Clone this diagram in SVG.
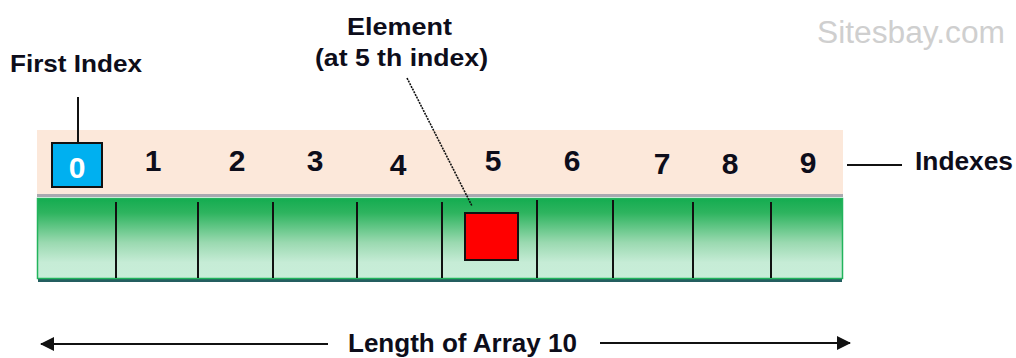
<svg xmlns="http://www.w3.org/2000/svg" width="1016" height="358" viewBox="0 0 1016 358">
  <defs>
    <linearGradient id="cellFill" x1="0" y1="0" x2="0" y2="1">
      <stop offset="0" stop-color="#14ac50"/>
      <stop offset="0.18" stop-color="#2eb45f"/>
      <stop offset="0.55" stop-color="#9ad9b0"/>
      <stop offset="0.8" stop-color="#c6ecd6"/>
      <stop offset="1" stop-color="#c9eed9"/>
    </linearGradient>
    <marker id="arrowHead" viewBox="0 0 14 14" refX="13" refY="7" markerWidth="14" markerHeight="14" markerUnits="userSpaceOnUse" orient="auto">
      <path d="M0,0 L14,7 L0,14 Z" fill="#111"/>
    </marker>
    <style>
      .lbl { font-family: "Liberation Sans", Arial, sans-serif; font-weight: bold; fill: #0d0d1a; }
      .idx { font-family: "Liberation Sans", Arial, sans-serif; font-weight: bold; font-size: 30px; fill: #0d0d1a; text-anchor: middle; }
      .div { stroke: #111; stroke-width: 2; }
      .conn { stroke: #111; stroke-width: 2; fill: none; }
    </style>
  </defs>

  <!-- watermark -->
  <text x="817" y="43" font-family="'Liberation Sans', Arial, sans-serif" font-size="31" fill="#cfcfcf" textLength="188" lengthAdjust="spacingAndGlyphs">Sitesbay.com</text>

  <!-- index band -->
  <g id="index-band">
    <rect x="37" y="193" width="806" height="4" fill="#a9a9b0"/>
    <rect x="37" y="130" width="806" height="64" fill="#fce8da"/>
  </g>

  <!-- array cells -->
  <g id="array">
    <rect x="38" y="279" width="804" height="3" fill="#245e60"/>
    <rect x="37.5" y="198.5" width="805" height="80" fill="url(#cellFill)" stroke="#22b45c" stroke-width="1.5"/>
    <line class="div" x1="116" y1="202" x2="116" y2="278"/>
    <line class="div" x1="198" y1="202" x2="198" y2="278"/>
    <line class="div" x1="273" y1="202" x2="273" y2="278"/>
    <line class="div" x1="357" y1="202" x2="357" y2="278"/>
    <line class="div" x1="442" y1="202" x2="442" y2="278"/>
    <line class="div" x1="537" y1="200" x2="537" y2="278"/>
    <line class="div" x1="613" y1="200" x2="613" y2="278"/>
    <line class="div" x1="693" y1="202" x2="693" y2="278"/>
    <line class="div" x1="771" y1="202" x2="771" y2="278"/>
  </g>

  <!-- index 0 highlight -->
  <g id="first-cell">
    <rect x="52" y="143" width="50" height="44" fill="#00b0f0" stroke="#111" stroke-width="2"/>
    <text x="77" y="178" font-family="'Liberation Sans', Arial, sans-serif" font-weight="bold" font-size="30" fill="#ffffff" text-anchor="middle">0</text>
  </g>

  <!-- index numbers -->
  <g id="indexes">
    <text class="idx" x="153" y="171">1</text>
    <text class="idx" x="237" y="171">2</text>
    <text class="idx" x="315" y="171">3</text>
    <text class="idx" x="398" y="175">4</text>
    <text class="idx" x="493" y="171">5</text>
    <text class="idx" x="572" y="171">6</text>
    <text class="idx" x="662" y="174">7</text>
    <text class="idx" x="730" y="174">8</text>
    <text class="idx" x="808" y="173">9</text>
  </g>

  <!-- element at index 5 -->
  <g id="element">
    <rect x="465" y="213" width="53" height="47" fill="#ff0000" stroke="#111" stroke-width="2"/>
  </g>

  <!-- labels -->
  <g id="first-index-label">
    <text class="lbl" x="10" y="72" font-size="24" textLength="132" lengthAdjust="spacingAndGlyphs">First Index</text>
  </g>
  <g id="element-label">
    <text class="lbl" x="347" y="35" font-size="24" textLength="105" lengthAdjust="spacingAndGlyphs">Element</text>
    <text class="lbl" x="315" y="66" font-size="24" textLength="173" lengthAdjust="spacingAndGlyphs">(at 5 th index)</text>
  </g>
  <g id="indexes-label">
    <text class="lbl" x="915" y="170" font-size="25" textLength="98" lengthAdjust="spacingAndGlyphs">Indexes</text>
  </g>
  <g id="length-label">
    <text class="lbl" x="348" y="352" font-size="26" textLength="229" lengthAdjust="spacingAndGlyphs">Length of Array 10</text>
  </g>

  <!-- connectors -->
  <g id="connectors">
    <line class="conn" x1="78" y1="97" x2="78" y2="142"/>
    <line x1="407" y1="78" x2="472" y2="206" stroke="#111" stroke-width="1.6" stroke-dasharray="2 1"/>
    <line class="conn" x1="847" y1="165" x2="902" y2="165"/>
    <line class="conn" x1="328" y1="344" x2="41" y2="344" marker-end="url(#arrowHead)"/>
    <line class="conn" x1="600" y1="343" x2="850" y2="343" marker-end="url(#arrowHead)"/>
  </g>
</svg>
